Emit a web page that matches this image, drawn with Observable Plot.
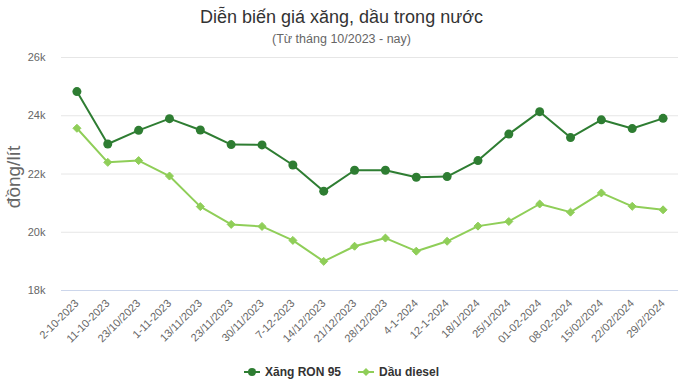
<!DOCTYPE html>
<html>
<head>
<meta charset="utf-8">
<script src="https://cdn.jsdelivr.net/npm/d3@7"></script>
<script src="https://cdn.jsdelivr.net/npm/@observablehq/plot@0.6"></script>
<style>
  body { margin: 0; background: #fff; font-family: "Liberation Sans", Arial, sans-serif; }
  #wrap { width: 683px; height: 386px; position: relative; overflow: hidden; }
  #title { position: absolute; top: 7px; left: 0; width: 683px; text-align: center; font-size: 18px; color: #333; }
  #subtitle { position: absolute; top: 32px; left: 0; width: 683px; text-align: center; font-size: 12.5px; color: #666; }
  #chart { position: absolute; top: 50px; left: 0; }
  #legend { position: absolute; top: 365px; left: 0; width: 683px; display: flex; justify-content: center; gap: 17px; font-size: 12px; font-weight: bold; color: #333; }
  .item { display: flex; align-items: center; gap: 5px; }
</style>
</head>
<body>
<div id="wrap">
  <div id="title">Diễn biến giá xăng, dầu trong nước</div>
  <div id="subtitle">(Từ tháng 10/2023 - nay)</div>
  <div id="chart"></div>
  <div id="legend"></div>
</div>
<script>
const dates = ["2-10-2023","11-10-2023","23/10/2023","1-11-2023","13/11/2023","23/11/2023","30/11/2023","7-12-2023","14/12/2023","21/12/2023","28/12/2023","4-1-2024","12-1-2024","18/1/2024","25/1/2024","01-02-2024","08-02-2024","15/02/2024","22/02/2024","29/2/2024"];
const ron95 = [24830,23030,23500,23900,23510,23010,23000,22310,21410,22130,22130,21890,21910,22460,23370,24140,23250,23860,23560,23910];
const diesel = [23570,22400,22460,21930,20880,20270,20200,19720,19000,19520,19800,19350,19690,20210,20370,20970,20690,21350,20890,20770];
const yTicks = [18000,20000,22000,24000,26000];
const seriesNames = ["Xăng RON 95","Dầu diesel"];
const colors = ["#2e7d32","#8fce58"];

const rows = [];
dates.forEach((d,i)=>{
  rows.push({date:d, value:ron95[i], series:seriesNames[0]});
  rows.push({date:d, value:diesel[i], series:seriesNames[1]});
});
const r95 = rows.filter(r=>r.series===seriesNames[0]);
const dsl = rows.filter(r=>r.series===seriesNames[1]);

const chart = Plot.plot({
  width: 683,
  height: 310,
  marginTop: 7,
  marginBottom: 70,
  marginLeft: 61,
  marginRight: 5,
  style: {fontFamily: '"Liberation Sans", Arial, sans-serif', fontSize: "11px", color: "#666", background: "#fff"},
  x: {type: "point", domain: dates, padding: 0.5, round: false, label: null},
  y: {domain: [18000, 26000], label: null},
  marks: [
    Plot.gridY(yTicks, {stroke: "#e6e6e6", strokeOpacity: 1}),
    Plot.ruleY([18000], {stroke: "#ccd6eb"}),
    Plot.axisY(yTicks, {tickSize: 0, tickPadding: 16, tickFormat: d => (d/1000) + "k", fill: "#666", fontSize: 11}),
    Plot.axisX({tickSize: 0, tickRotate: -45, tickPadding: 11, fill: "#666", fontSize: 11}),
    Plot.line(dsl, {x: "date", y: "value", stroke: colors[1], strokeWidth: 2}),
    Plot.dot(dsl, {x: "date", y: "value", fill: colors[1], stroke: colors[1], strokeWidth: 1, symbol: "diamond2", r: 3.6}),
    Plot.line(r95, {x: "date", y: "value", stroke: colors[0], strokeWidth: 2}),
    Plot.dot(r95, {x: "date", y: "value", fill: colors[0], r: 4.5})
  ]
});
document.getElementById("chart").appendChild(chart);

// y-axis title
const svg = d3.select(chart);
svg.append("text")
  .attr("transform", "translate(20,127) rotate(-90)")
  .attr("text-anchor", "middle")
  .attr("fill", "#666")
  .style("font-size", "19px")
  .text("đồng/lít");

// legend
const leg = document.getElementById("legend");
seriesNames.forEach((name, i) => {
  const it = document.createElement("div");
  it.className = "item";
  const sym = i === 0
    ? `<svg width="16" height="12"><line x1="0" y1="6" x2="16" y2="6" stroke="${colors[i]}" stroke-width="2"/><circle cx="8" cy="6" r="4" fill="${colors[i]}"/></svg>`
    : `<svg width="16" height="12"><line x1="0" y1="6" x2="16" y2="6" stroke="${colors[i]}" stroke-width="2"/><path d="M8 2 L12 6 L8 10 L4 6 Z" fill="${colors[i]}"/></svg>`;
  it.innerHTML = sym + `<span>${name}</span>`;
  leg.appendChild(it);
});
</script>
</body>
</html>
